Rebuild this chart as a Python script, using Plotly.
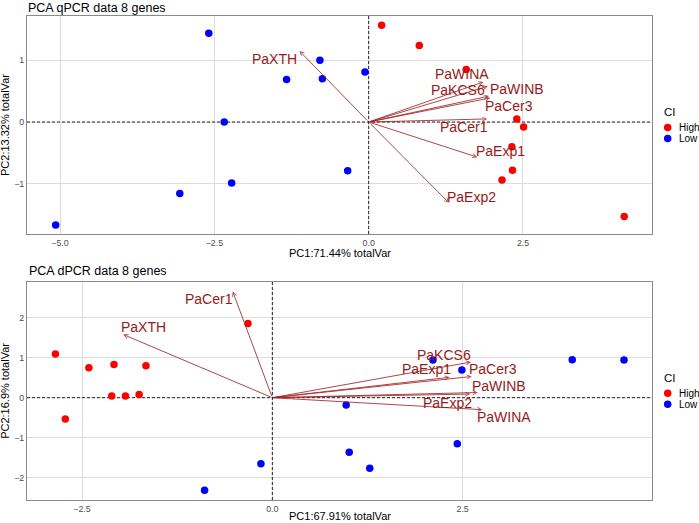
import plotly.graph_objects as go

W, H = 699, 523

# ---------------- data: qPCR panel ----------------
qpcr_high_pc1 = [0.21, 0.82, 1.58, 2.40, 2.51, 2.32, 2.33, 2.16, 4.14]
qpcr_high_pc2 = [1.57, 1.24, 0.85, 0.05, -0.08, -0.40, -0.78, -0.94, -1.53]
qpcr_low_pc1 = [-2.59, -0.79, -1.33, -0.75, -2.34, -0.34, -2.22, -3.06, -5.07, -0.06]
qpcr_low_pc2 = [1.44, 1.00, 0.69, 0.70, 0.00, -0.79, -0.99, -1.16, -1.67, 0.81]

qpcr_genes = ["PaXTH", "PaWINA", "PaKCS6", "PaWINB", "PaCer3", "PaCer1", "PaExp1", "PaExp2"]
qpcr_load_pc1 = [-1.12, 1.86, 1.93, 1.95, 1.97, 1.92, 1.76, 1.30]
qpcr_load_pc2 = [1.15, 0.65, 0.58, 0.42, 0.39, 0.05, -0.57, -1.31]
qpcr_label_pc1 = [-1.52, 1.51, 1.44, 2.41, 2.27, 1.54, 2.14, 1.66]
qpcr_label_pc2 = [1.02, 0.78, 0.52, 0.54, 0.26, -0.08, -0.47, -1.21]

# ---------------- data: dPCR panel ----------------
dpcr_high_pc1 = [-2.85, -2.41, -2.08, -1.66, -2.11, -1.93, -1.75, -2.72, -0.32]
dpcr_high_pc2 = [1.09, 0.75, 0.83, 0.80, 0.04, 0.04, 0.08, -0.53, 1.85]
dpcr_low_pc1 = [0.97, 1.01, -0.15, -0.89, 2.11, 2.49, 1.28, 2.43, 3.94, 4.62]
dpcr_low_pc2 = [-0.18, -1.36, -1.65, -2.31, 0.94, 0.69, -1.76, -1.15, 0.95, 0.94]

dpcr_genes = ["PaCer1", "PaXTH", "PaKCS6", "PaExp1", "PaCer3", "PaWINB", "PaExp2", "PaWINA"]
dpcr_load_pc1 = [-0.52, -1.96, 2.61, 2.33, 2.62, 2.70, 2.60, 2.76]
dpcr_load_pc2 = [2.65, 1.58, 0.89, 0.51, 0.53, 0.13, 0.09, -0.30]
dpcr_label_pc1 = [-0.83, -1.69, 2.26, 2.03, 2.90, 2.98, 2.30, 3.04]
dpcr_label_pc2 = [2.46, 1.76, 1.06, 0.71, 0.71, 0.30, -0.13, -0.49]

titles = ["PCA qPCR data 8 genes", "PCA dPCR data 8 genes"]
x_titles = ["PC1:71.44% totalVar", "PC1:67.91% totalVar"]
y_titles = ["PC2:13.32% totalVar", "PC2:16.9% totalVar"]
legend_title = "CI"
groups = ["High", "Low"]
group_colors = ["#FF0000", "#0000FF"]

FONT = "Liberation Sans, Arial, Helvetica, sans-serif"
TEXT_RED = "#951A1A"
ARROW_RED = "rgba(160,40,40,0.85)"


def px_x(p):
    return p / W


def px_y(p):
    return 1 - p / H


# panel geometry in pixels (left, right, top, bottom)
panels = [
    dict(l=27, r=652, t=16, b=234, xr=[-5.535, 4.59], yr=[-1.815, 1.718], dtick_x=2.5, dtick_y=1),
    dict(l=27, r=652, t=281.7, b=500, xr=[-3.223, 4.988], yr=[-2.555, 2.897], dtick_x=2.5, dtick_y=1),
]
x_title_offsets = [19, 16]

fig = go.Figure()

data_sets = [
    (qpcr_high_pc1, qpcr_high_pc2, qpcr_low_pc1, qpcr_low_pc2,
     qpcr_genes, qpcr_load_pc1, qpcr_load_pc2, qpcr_label_pc1, qpcr_label_pc2),
    (dpcr_high_pc1, dpcr_high_pc2, dpcr_low_pc1, dpcr_low_pc2,
     dpcr_genes, dpcr_load_pc1, dpcr_load_pc2, dpcr_label_pc1, dpcr_label_pc2),
]

annotations = []
layout_axes = {}
legend_x, legend_y, legend_c = [], [], []

for i, (ds, pn) in enumerate(zip(data_sets, panels)):
    hx, hy, lx, ly, genes, ldx, ldy, lbx, lby = ds
    xa = "x" if i == 0 else "x2"
    ya = "y" if i == 0 else "y2"
    xname = "xaxis" if i == 0 else "xaxis2"
    yname = "yaxis" if i == 0 else "yaxis2"

    # dashed reference lines at 0 (drawn first, under the points)
    fig.add_trace(go.Scatter(
        x=[0, 0], y=pn["yr"], mode="lines", xaxis=xa, yaxis=ya, showlegend=False,
        hoverinfo="skip", line=dict(color="#222222", width=1, dash="3px,2px"),
    ))
    fig.add_trace(go.Scatter(
        x=pn["xr"], y=[0, 0], mode="lines", xaxis=xa, yaxis=ya, showlegend=False,
        hoverinfo="skip", line=dict(color="#222222", width=1, dash="3px,2px"),
    ))

    for gx, gy, col in [(hx, hy, group_colors[0]), (lx, ly, group_colors[1])]:
        fig.add_trace(go.Scatter(
            x=gx, y=gy, mode="markers", xaxis=xa, yaxis=ya, showlegend=False,
            marker=dict(color=col, size=7.5, line=dict(width=0)),
        ))

    axis_common = dict(
        showgrid=True, gridcolor="#DCDCDC", gridwidth=1, zeroline=False,
        showline=True, mirror=True, linecolor="#8a8a8a", linewidth=1,
        ticks="", ticklabelstandoff=0,
        tickfont=dict(family=FONT, size=8.8, color="#4D4D4D"),
    )
    layout_axes[xname] = dict(
        axis_common, domain=[px_x(pn["l"]), px_x(pn["r"])], range=pn["xr"],
        anchor=ya, tick0=0, dtick=pn["dtick_x"], tickformat=".1f",
    )
    layout_axes[yname] = dict(
        axis_common, domain=[px_y(pn["b"]), px_y(pn["t"])], range=pn["yr"],
        anchor=xa, tick0=0, dtick=pn["dtick_y"], tickformat="d",
    )

    # loading arrows
    for g, x1, y1, tx, ty in zip(genes, ldx, ldy, lbx, lby):
        annotations.append(dict(
            x=x1, y=y1, ax=0, ay=0, xref=xa, yref=ya, axref=xa, ayref=ya,
            text="", showarrow=True, arrowhead=5, arrowsize=0.8, arrowwidth=1,
            arrowcolor=ARROW_RED, standoff=0, startstandoff=0,
        ))
        annotations.append(dict(
            x=tx, y=ty, xref=xa, yref=ya, text=g, showarrow=False,
            font=dict(family=FONT, size=14, color=TEXT_RED),
            xanchor="center", yanchor="middle",
        ))

    # panel title
    if i == 0:
        annotations.append(dict(
            x=px_x(pn["l"]), y=1, xref="paper", yref="paper",
            text=titles[i], showarrow=False, xanchor="left", yanchor="top",
            font=dict(family=FONT, size=12.5, color="#000000"), borderpad=0,
        ))
    else:
        annotations.append(dict(
            x=px_x(pn["l"]), y=px_y(pn["t"] - 11), xref="paper", yref="paper",
            text=titles[i], showarrow=False, xanchor="left", yanchor="middle",
            font=dict(family=FONT, size=12.5, color="#000000"),
        ))
    annotations.append(dict(
        x=px_x((pn["l"] + pn["r"]) / 2), y=px_y(pn["b"] + x_title_offsets[i]),
        xref="paper", yref="paper",
        text=x_titles[i], showarrow=False, xanchor="center", yanchor="middle",
        font=dict(family=FONT, size=11, color="#000000"),
    ))
    annotations.append(dict(
        x=px_x(5), y=px_y((pn["t"] + pn["b"]) / 2), xref="paper", yref="paper",
        text=y_titles[i], showarrow=False, textangle=-90, xanchor="center", yanchor="middle",
        font=dict(family=FONT, size=11, color="#000000"),
    ))

    # manual legend
    ly0 = pn["t"] + 96
    annotations.append(dict(
        x=px_x(662), y=px_y(ly0), xref="paper", yref="paper", text=legend_title,
        showarrow=False, xanchor="left", yanchor="middle",
        font=dict(family=FONT, size=11.5, color="#000000"),
    ))
    for k, (gname, gcol) in enumerate(zip(groups, group_colors)):
        cy = ly0 + 15.5 + 11 * k
        legend_x.append(667.7)
        legend_y.append(cy)
        legend_c.append(gcol)
        annotations.append(dict(
            x=px_x(677), y=px_y(cy), xref="paper", yref="paper", text=gname,
            showarrow=False, xanchor="left", yanchor="middle",
            font=dict(family=FONT, size=10, color="#000000"),
        ))

# legend keys on an invisible full-page pixel axis
fig.add_trace(go.Scatter(
    x=legend_x, y=legend_y, mode="markers", xaxis="x3", yaxis="y3", showlegend=False,
    hoverinfo="skip", marker=dict(color=legend_c, size=7.5, line=dict(width=0)),
))
layout_axes["xaxis3"] = dict(domain=[0, 1], range=[0, W], visible=False, anchor="y3",
                             fixedrange=True)
layout_axes["yaxis3"] = dict(domain=[0, 1], range=[H, 0], visible=False, anchor="x3",
                             fixedrange=True)

fig.update_layout(
    width=W, height=H, margin=dict(l=0, r=0, t=0, b=0),
    paper_bgcolor="white", plot_bgcolor="rgba(0,0,0,0)",
    showlegend=False, annotations=annotations,
    font=dict(family=FONT),
    **layout_axes,
)

fig.write_html("out.html")
